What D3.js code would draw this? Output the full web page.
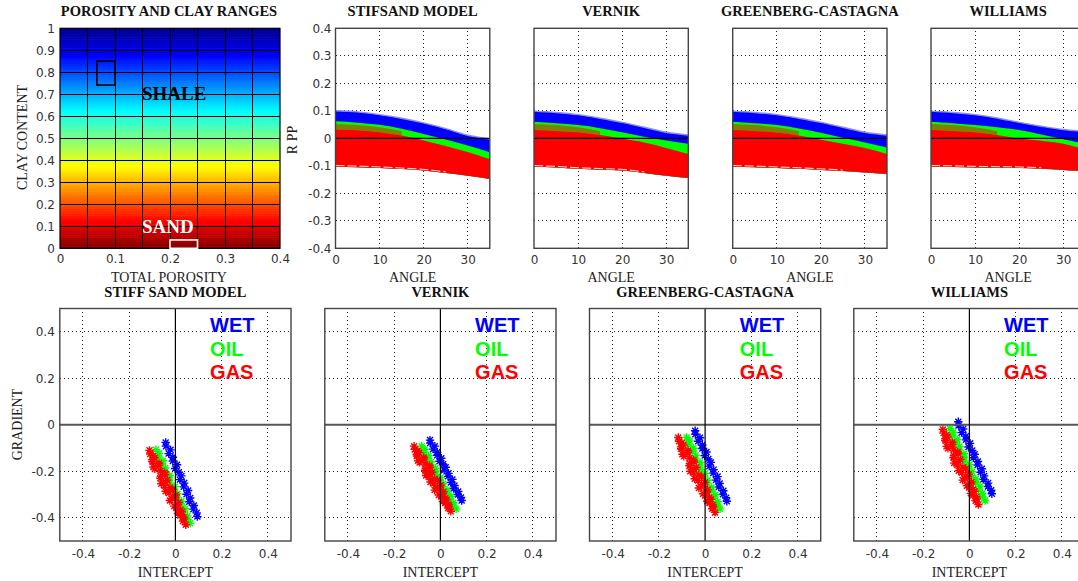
<!DOCTYPE html>
<html>
<head>
<meta charset="utf-8">
<script src="https://cdn.jsdelivr.net/npm/d3@7"></script>
<style>
  body { margin: 0; background: #fff; }
  svg { display: block; }
  .tick text { font-family: "DejaVu Sans", sans-serif; font-size: 12px; fill: #333; }
</style>
</head>
<body>
<script>
// ---------- tick values ----------
const porosityTicks = [0, 0.1, 0.2, 0.3, 0.4];
const porosityGrid = [0.05, 0.1, 0.15, 0.2, 0.25, 0.3, 0.35];
const clayTicks = [0, 0.1, 0.2, 0.3, 0.4, 0.5, 0.6, 0.7, 0.8, 0.9, 1];
const angleTicks = [0, 10, 20, 30];
const rppTicks = [-0.4, -0.3, -0.2, -0.1, 0, 0.1, 0.2, 0.3, 0.4];
const agTicks = [-0.4, -0.2, 0, 0.2, 0.4];

// ---------- porosity / clay ranges ----------
const shalePorosity = [0.067, 0.1];
const shaleClay = [0.742, 0.851];
const sandPorosity = [0.2, 0.25];
const sandClay = [0, 0.038];

// ---------- R PP envelopes versus angle ----------
const angles = [0, 5, 10, 15, 20, 25, 30, 35];
const mixAngles = [0, 5, 10, 15];
const mixTop = [0.052, 0.048, 0.040, 0.026];
const streakAngles = [0, 5, 10, 15, 20, 25];

const stiffWetTop = [0.100, 0.096, 0.086, 0.073, 0.056, 0.035, 0.011, -0.002];
const stiffOilTop = [0.062, 0.057, 0.049, 0.035, 0.016, -0.004, -0.026, -0.051];
const stiffGasTop = [0.032, 0.029, 0.022, 0.010, -0.008, -0.028, -0.050, -0.076];
const stiffGasBottom = [-0.103, -0.105, -0.108, -0.112, -0.117, -0.126, -0.136, -0.148];

const vernikWetTop = [0.099, 0.094, 0.086, 0.073, 0.058, 0.040, 0.022, 0.012];
const vernikOilTop = [0.060, 0.055, 0.048, 0.037, 0.022, 0.006, -0.008, -0.020];
const vernikGasTop = [0.030, 0.027, 0.022, 0.012, -0.002, -0.015, -0.035, -0.057];
const vernikGasBottom = [-0.103, -0.106, -0.111, -0.114, -0.117, -0.126, -0.136, -0.144];

const greenbergWetTop = [0.099, 0.094, 0.086, 0.073, 0.058, 0.040, 0.022, 0.012];
const greenbergOilTop = [0.060, 0.055, 0.048, 0.036, 0.020, 0.002, -0.015, -0.033];
const greenbergGasTop = [0.030, 0.027, 0.021, 0.010, -0.005, -0.020, -0.035, -0.057];
const greenbergGasBottom = [-0.103, -0.105, -0.108, -0.111, -0.115, -0.119, -0.124, -0.130];

const williamsWetTop = [0.099, 0.094, 0.086, 0.074, 0.058, 0.044, 0.032, 0.025];
const williamsOilTop = [0.060, 0.055, 0.048, 0.040, 0.030, 0.014, -0.003, -0.020];
const williamsGasTop = [0.030, 0.027, 0.022, 0.012, -0.001, -0.009, -0.020, -0.042];
const williamsGasBottom = [-0.103, -0.104, -0.106, -0.107, -0.108, -0.111, -0.115, -0.120];

// ---------- intercept / gradient points ----------
const stiffWetA = [-0.042,-0.041,-0.021,-0.029,-0.011,-0.011,0.007,-0.001,0.015,0.026,0.019,0.038,0.036,0.055,0.048,0.064,0.060,0.080,0.078,0.092,0.095];
const stiffWetB = [-0.076,-0.092,-0.108,-0.124,-0.140,-0.156,-0.172,-0.188,-0.204,-0.220,-0.236,-0.251,-0.267,-0.283,-0.299,-0.315,-0.331,-0.347,-0.363,-0.379,-0.395];
const stiffOilA = [-0.084,-0.071,-0.076,-0.054,-0.058,-0.044,-0.048,-0.025,-0.027,-0.023,-0.002,-0.008,0.009,0.004,0.026,0.024,0.042,0.036,0.052,0.053,0.064];
const stiffOilB = [-0.107,-0.123,-0.139,-0.155,-0.170,-0.186,-0.202,-0.218,-0.234,-0.250,-0.266,-0.281,-0.297,-0.313,-0.329,-0.345,-0.361,-0.376,-0.392,-0.408,-0.424];
const stiffGasA = [-0.112,-0.109,-0.090,-0.100,-0.071,-0.089,-0.047,-0.063,-0.035,-0.061,-0.024,-0.042,0.002,-0.014,0.014,-0.006,0.022,0.011,0.035,0.033,0.045,
                   -0.096,-0.100,-0.071,-0.095,-0.065,-0.045,-0.065,-0.043,-0.047,-0.012,-0.028,-0.002,-0.024,0.010,0.004,0.028,0.021,0.037];
const stiffGasB = [-0.110,-0.126,-0.142,-0.158,-0.174,-0.190,-0.206,-0.222,-0.238,-0.254,-0.270,-0.286,-0.302,-0.318,-0.334,-0.350,-0.366,-0.382,-0.398,-0.414,-0.430,
                   -0.134,-0.150,-0.166,-0.182,-0.198,-0.214,-0.230,-0.246,-0.262,-0.278,-0.294,-0.310,-0.326,-0.342,-0.358,-0.374,-0.390,-0.406];

const vernikWetA = [-0.045,-0.044,-0.024,-0.032,-0.014,-0.014,0.004,-0.004,0.012,0.023,0.016,0.035,0.033,0.052,0.045,0.061,0.057,0.077,0.075,0.089,0.092];
const vernikWetB = [-0.066,-0.079,-0.092,-0.105,-0.118,-0.131,-0.144,-0.157,-0.170,-0.183,-0.196,-0.209,-0.222,-0.235,-0.248,-0.261,-0.274,-0.287,-0.300,-0.313,-0.326];
const vernikOilA = [-0.081,-0.068,-0.073,-0.051,-0.055,-0.041,-0.044,-0.022,-0.023,-0.020,0.001,-0.004,0.012,0.008,0.029,0.028,0.046,0.040,0.056,0.057,0.068];
const vernikOilB = [-0.092,-0.106,-0.119,-0.133,-0.146,-0.160,-0.173,-0.187,-0.200,-0.214,-0.227,-0.241,-0.254,-0.268,-0.281,-0.295,-0.308,-0.322,-0.335,-0.349,-0.362];
const vernikGasA = [-0.114,-0.111,-0.092,-0.102,-0.072,-0.090,-0.048,-0.064,-0.036,-0.062,-0.025,-0.043,0.001,-0.015,0.013,-0.007,0.021,0.011,0.035,0.033,0.045,
                    -0.098,-0.102,-0.072,-0.096,-0.066,-0.046,-0.066,-0.044,-0.048,-0.013,-0.029,-0.003,-0.025,0.009,0.003,0.027,0.021,0.037];
const vernikGasB = [-0.092,-0.106,-0.120,-0.134,-0.148,-0.162,-0.176,-0.190,-0.204,-0.218,-0.232,-0.246,-0.260,-0.274,-0.288,-0.302,-0.316,-0.330,-0.344,-0.358,-0.372,
                    -0.113,-0.127,-0.141,-0.155,-0.169,-0.183,-0.197,-0.211,-0.225,-0.239,-0.253,-0.267,-0.281,-0.295,-0.309,-0.323,-0.337,-0.351];

const greenbergWetA = [-0.043,-0.042,-0.022,-0.030,-0.012,-0.012,0.006,-0.002,0.014,0.025,0.018,0.037,0.035,0.054,0.047,0.063,0.059,0.079,0.077,0.091,0.094];
const greenbergWetB = [-0.026,-0.041,-0.056,-0.071,-0.087,-0.102,-0.117,-0.132,-0.147,-0.162,-0.178,-0.193,-0.208,-0.223,-0.238,-0.253,-0.268,-0.284,-0.299,-0.314,-0.329];
const greenbergOilA = [-0.080,-0.067,-0.073,-0.050,-0.055,-0.041,-0.045,-0.022,-0.024,-0.021,0.000,-0.005,0.011,0.006,0.028,0.026,0.044,0.037,0.054,0.054,0.065];
const greenbergOilB = [-0.055,-0.070,-0.086,-0.101,-0.116,-0.132,-0.147,-0.162,-0.178,-0.193,-0.209,-0.224,-0.239,-0.255,-0.270,-0.285,-0.301,-0.316,-0.331,-0.347,-0.362];
const greenbergGasA = [-0.116,-0.113,-0.094,-0.104,-0.074,-0.092,-0.050,-0.066,-0.038,-0.064,-0.027,-0.045,-0.001,-0.017,0.011,-0.009,0.019,0.009,0.033,0.031,0.043,
                       -0.100,-0.104,-0.074,-0.098,-0.068,-0.048,-0.068,-0.046,-0.050,-0.015,-0.031,-0.005,-0.027,0.007,0.001,0.025,0.019,0.035];
const greenbergGasB = [-0.055,-0.071,-0.087,-0.103,-0.119,-0.136,-0.152,-0.168,-0.184,-0.200,-0.216,-0.232,-0.248,-0.264,-0.280,-0.297,-0.313,-0.329,-0.345,-0.361,-0.377,
                       -0.079,-0.095,-0.111,-0.127,-0.144,-0.160,-0.176,-0.192,-0.208,-0.224,-0.240,-0.256,-0.272,-0.289,-0.305,-0.321,-0.337,-0.353];

const williamsWetA = [-0.048,-0.047,-0.027,-0.034,-0.015,-0.015,0.003,-0.004,0.012,0.023,0.017,0.037,0.035,0.054,0.048,0.064,0.060,0.081,0.080,0.094,0.097];
const williamsWetB = [0.013,-0.003,-0.018,-0.034,-0.049,-0.065,-0.080,-0.096,-0.111,-0.127,-0.142,-0.158,-0.173,-0.189,-0.204,-0.220,-0.235,-0.251,-0.266,-0.282,-0.297];
const williamsOilA = [-0.084,-0.070,-0.076,-0.053,-0.058,-0.043,-0.046,-0.024,-0.025,-0.022,0.000,-0.005,0.011,0.007,0.028,0.027,0.046,0.039,0.056,0.056,0.068];
const williamsOilB = [-0.016,-0.032,-0.047,-0.063,-0.078,-0.094,-0.109,-0.125,-0.140,-0.156,-0.171,-0.187,-0.202,-0.218,-0.233,-0.249,-0.264,-0.280,-0.295,-0.311,-0.326];
const williamsGasA = [-0.115,-0.112,-0.094,-0.104,-0.074,-0.093,-0.051,-0.067,-0.039,-0.066,-0.028,-0.046,-0.003,-0.019,0.009,-0.011,0.016,0.006,0.030,0.027,0.039,
                      -0.100,-0.104,-0.074,-0.099,-0.069,-0.049,-0.069,-0.048,-0.052,-0.016,-0.033,-0.007,-0.029,0.005,-0.001,0.022,0.016,0.032];
const williamsGasB = [-0.020,-0.036,-0.052,-0.068,-0.085,-0.101,-0.117,-0.133,-0.149,-0.165,-0.182,-0.198,-0.214,-0.230,-0.246,-0.262,-0.278,-0.295,-0.311,-0.327,-0.343,
                      -0.044,-0.060,-0.076,-0.093,-0.109,-0.125,-0.141,-0.157,-0.173,-0.190,-0.206,-0.222,-0.238,-0.254,-0.270,-0.286,-0.303,-0.319];

const fluidNames = ["WET", "OIL", "GAS"];
const fluidColors = ["#0000ff", "#00ff00", "#ff0000"];
const legendGradients = [0.398, 0.297, 0.197];

// ---------- per-panel tables ----------
const rppModels = [
  { title: "STIFSAND MODEL", left: 335.5, wet: stiffWetTop, oil: stiffOilTop, gas: stiffGasTop, bottom: stiffGasBottom, yAxis: true },
  { title: "VERNIK", left: 534, wet: vernikWetTop, oil: vernikOilTop, gas: vernikGasTop, bottom: vernikGasBottom },
  { title: "GREENBERG-CASTAGNA", left: 732.7, wet: greenbergWetTop, oil: greenbergOilTop, gas: greenbergGasTop, bottom: greenbergGasBottom },
  { title: "WILLIAMS", left: 931, wet: williamsWetTop, oil: williamsOilTop, gas: williamsGasTop, bottom: williamsGasBottom }
];
const agModels = [
  { title: "STIFF SAND MODEL", left: 59.8, yAxis: true,
    series: [[stiffWetA, stiffWetB], [stiffOilA, stiffOilB], [stiffGasA, stiffGasB]] },
  { title: "VERNIK", left: 324.8,
    series: [[vernikWetA, vernikWetB], [vernikOilA, vernikOilB], [vernikGasA, vernikGasB]] },
  { title: "GREENBERG-CASTAGNA", left: 589.5,
    series: [[greenbergWetA, greenbergWetB], [greenbergOilA, greenbergOilB], [greenbergGasA, greenbergGasB]] },
  { title: "WILLIAMS", left: 853.8,
    series: [[williamsWetA, williamsWetB], [williamsOilA, williamsOilB], [williamsGasA, williamsGasB]] }
];

// ---------- drawing ----------
const SERIF = '"Liberation Serif", "Times New Roman", serif';
const SANS = '"Liberation Sans", Arial, sans-serif';
const svg = d3.select("body").append("svg").attr("width", 1078).attr("height", 581);
const fmt = d => String(d);

function dottedLine(g, x1, y1, x2, y2) {
  g.append("line").attr("x1", x1).attr("y1", y1).attr("x2", x2).attr("y2", y2)
    .attr("stroke", "#222").attr("stroke-width", 1).attr("stroke-dasharray", "1,3")
    .attr("shape-rendering", "crispEdges");
}
function title(text, x, y) {
  svg.append("text").attr("x", x).attr("y", y).attr("text-anchor", "middle")
    .attr("font-family", SERIF).attr("font-weight", "bold").attr("font-size", 14.5)
    .attr("fill", "#111").text(text);
}
function axisLabel(text, x, y, rotate) {
  const t = svg.append("text").attr("text-anchor", "middle")
    .attr("font-family", SERIF).attr("font-size", 14).attr("fill", "#222").text(text);
  if (rotate) t.attr("transform", `translate(${x},${y}) rotate(-90)`);
  else t.attr("x", x).attr("y", y);
}
function stripDomain(g) { g.select(".domain").remove(); }

// Panel 1: clay content colour field over porosity
{
  const x = d3.scaleLinear([0, 0.4], [60, 280]);
  const y = d3.scaleLinear([0, 1], [248.3, 28.3]);
  const jet = d3.scaleLinear()
    .domain([0, 0.125, 0.375, 0.625, 0.875, 1])
    .range(["#00008f", "#0000ff", "#00ffff", "#ffff00", "#ff0000", "#800000"]);
  const g = svg.append("g");
  const rows = d3.range(0, 1, 0.01);
  g.selectAll("rect.row").data(rows).join("rect")
    .attr("x", x(0)).attr("width", x(0.4) - x(0))
    .attr("y", d => y(d + 0.01)).attr("height", y(0) - y(0.01) + 0.6)
    .attr("fill", d => jet(1 - (d + 0.005)));
  g.selectAll("line.v").data(porosityGrid).join("line")
    .attr("x1", d => x(d)).attr("x2", d => x(d)).attr("y1", y(0)).attr("y2", y(1))
    .attr("stroke", "#000").attr("stroke-width", 1).attr("shape-rendering", "crispEdges");
  g.selectAll("line.h").data(clayTicks.slice(1, -1)).join("line")
    .attr("x1", x(0)).attr("x2", x(0.4)).attr("y1", d => y(d)).attr("y2", d => y(d))
    .attr("stroke", "#000").attr("stroke-width", 1).attr("shape-rendering", "crispEdges");
  g.append("rect").attr("x", x(0)).attr("y", y(1)).attr("width", x(0.4) - x(0)).attr("height", y(0) - y(1))
    .attr("fill", "none").attr("stroke", "#000").attr("stroke-width", 1.2);
  g.append("rect").attr("x", x(shalePorosity[0])).attr("y", y(shaleClay[1]))
    .attr("width", x(shalePorosity[1]) - x(shalePorosity[0])).attr("height", y(shaleClay[0]) - y(shaleClay[1]))
    .attr("fill", "none").attr("stroke", "#000").attr("stroke-width", 1.6);
  g.append("rect").attr("x", x(sandPorosity[0])).attr("y", y(sandClay[1]))
    .attr("width", x(sandPorosity[1]) - x(sandPorosity[0])).attr("height", y(sandClay[0]) - y(sandClay[1]))
    .attr("fill", "none").attr("stroke", "#fff").attr("stroke-width", 1.6);
  g.append("text").attr("x", x(0.149)).attr("y", y(0.674)).attr("font-family", SERIF)
    .attr("font-weight", "bold").attr("font-size", 19).attr("fill", "#000").text("SHALE");
  g.append("text").attr("x", x(0.149)).attr("y", y(0.071)).attr("font-family", SERIF)
    .attr("font-weight", "bold").attr("font-size", 19).attr("fill", "#fff").text("SAND");
  g.append("g").attr("transform", `translate(0,${y(0)})`)
    .call(d3.axisBottom(x).tickValues(porosityTicks).tickSize(0).tickPadding(6.5).tickFormat(fmt)).call(stripDomain);
  g.append("g").attr("transform", `translate(${x(0)},0)`)
    .call(d3.axisLeft(y).tickValues(clayTicks).tickSize(0).tickPadding(5).tickFormat(fmt)).call(stripDomain);
  title("POROSITY AND CLAY RANGES", 169, 16);
  axisLabel("TOTAL POROSITY", 169, 281.5);
  axisLabel("CLAY CONTENT", 26.5, 137.5, true);
}

// Panels 2-5: R PP versus incidence angle
rppModels.forEach(m => {
  const x = d3.scaleLinear([0, 35], [m.left, m.left + 154.3]);
  const y = d3.scaleLinear([-0.4, 0.4], [248.3, 28.3]);
  const g = svg.append("g");
  angleTicks.slice(1).forEach(a => dottedLine(g, x(a), y(-0.4), x(a), y(0.4)));
  rppTicks.slice(1, -1).filter(v => v !== 0).forEach(v => dottedLine(g, x(0), y(v), x(35), y(v)));

  const band = (top, bottom, ang) => d3.area()
    .x((d, i) => x(ang[i])).y0(d => y(d[1])).y1(d => y(d[0]))
    .curve(d3.curveMonotoneX)(d3.zip(top, bottom));
  const edge = (vals, ang) => d3.line().x((d, i) => x(ang[i])).y(d => y(d)).curve(d3.curveMonotoneX)(vals);

  g.append("path").attr("d", band(m.wet, m.bottom, angles)).attr("fill", fluidColors[0]);
  g.append("path").attr("d", edge(m.wet, angles))
    .attr("fill", "none").attr("stroke", "#8c8cff").attr("stroke-width", 1.4);
  g.append("path").attr("d", band(m.oil, m.bottom, angles)).attr("fill", fluidColors[1]);
  g.append("path").attr("d", band(mixTop, m.gas.slice(0, mixTop.length), mixAngles)).attr("fill", "#808000");
  g.append("path").attr("d", band(m.gas, m.bottom, angles)).attr("fill", fluidColors[2]);
  // light streaks along the lower rim of the gas curves at small angles
  g.append("path").attr("d", edge(m.bottom.slice(0, streakAngles.length).map(v => v + 0.004), streakAngles))
    .attr("fill", "none").attr("stroke", "#fff").attr("stroke-width", 1)
    .attr("stroke-dasharray", "9,3").attr("opacity", 0.85);

  g.append("line").attr("x1", x(0)).attr("x2", x(35)).attr("y1", y(0)).attr("y2", y(0))
    .attr("stroke", "#000").attr("stroke-width", 1.2);
  g.append("rect").attr("x", x(0)).attr("y", y(0.4)).attr("width", x(35) - x(0)).attr("height", y(-0.4) - y(0.4))
    .attr("fill", "none").attr("stroke", "#444").attr("stroke-width", 1.4);
  g.append("g").attr("transform", `translate(0,${y(-0.4)})`)
    .call(d3.axisBottom(x).tickValues(angleTicks).tickSize(0).tickPadding(7).tickFormat(fmt)).call(stripDomain);
  if (m.yAxis) {
    g.append("g").attr("transform", `translate(${x(0)},0)`)
      .call(d3.axisLeft(y).tickValues(rppTicks).tickSize(0).tickPadding(4).tickFormat(fmt)).call(stripDomain);
    axisLabel("R PP", 297, 140, true);
  }
  title(m.title, x(17.5), 16);
  axisLabel("ANGLE", x(17.5), 281.5);
});

// Bottom row: intercept / gradient cross-plots
const star = "M-4.2,0H4.2M0,-4.2V4.2M-3,-3L3,3M-3,3L3,-3";
agModels.forEach(m => {
  const x = d3.scaleLinear([-0.5, 0.5], [m.left, m.left + 231.2]);
  const y = d3.scaleLinear([-0.5, 0.5], [541, 308.5]);
  const g = svg.append("g");
  agTicks.filter(v => v !== 0).forEach(v => {
    dottedLine(g, x(v), y(-0.5), x(v), y(0.5));
    dottedLine(g, x(-0.5), y(v), x(0.5), y(v));
  });
  m.series.forEach(([A, B], k) => {
    g.append("g").selectAll("path").data(d3.zip(A, B)).join("path")
      .attr("d", star).attr("transform", d => `translate(${x(d[0])},${y(d[1])})`)
      .attr("fill", "none").attr("stroke", fluidColors[k]).attr("stroke-width", 1.4);
  });
  g.append("line").attr("x1", x(-0.5)).attr("x2", x(0.5)).attr("y1", y(0)).attr("y2", y(0))
    .attr("stroke", "#555").attr("stroke-width", 2);
  g.append("line").attr("x1", x(0)).attr("x2", x(0)).attr("y1", y(-0.5)).attr("y2", y(0.5))
    .attr("stroke", "#000").attr("stroke-width", 1.2);
  g.append("rect").attr("x", x(-0.5)).attr("y", y(0.5)).attr("width", x(0.5) - x(-0.5)).attr("height", y(-0.5) - y(0.5))
    .attr("fill", "none").attr("stroke", "#444").attr("stroke-width", 1.4);
  fluidNames.forEach((n, k) => {
    g.append("text").attr("x", x(0.15)).attr("y", y(legendGradients[k]))
      .attr("font-family", SANS).attr("font-weight", "bold").attr("font-size", 20)
      .attr("fill", fluidColors[k]).text(n);
  });
  g.append("g").attr("transform", `translate(0,${y(-0.5)})`)
    .call(d3.axisBottom(x).tickValues(agTicks).tickSize(0).tickPadding(8).tickFormat(fmt)).call(stripDomain);
  if (m.yAxis) {
    g.append("g").attr("transform", `translate(${x(-0.5)},0)`)
      .call(d3.axisLeft(y).tickValues(agTicks).tickSize(0).tickPadding(5).tickFormat(fmt)).call(stripDomain);
    axisLabel("GRADIENT", 21.5, 424.5, true);
  }
  title(m.title, x(0), 296.5);
  axisLabel("INTERCEPT", x(0), 576.5);
});
</script>
</body>
</html>
